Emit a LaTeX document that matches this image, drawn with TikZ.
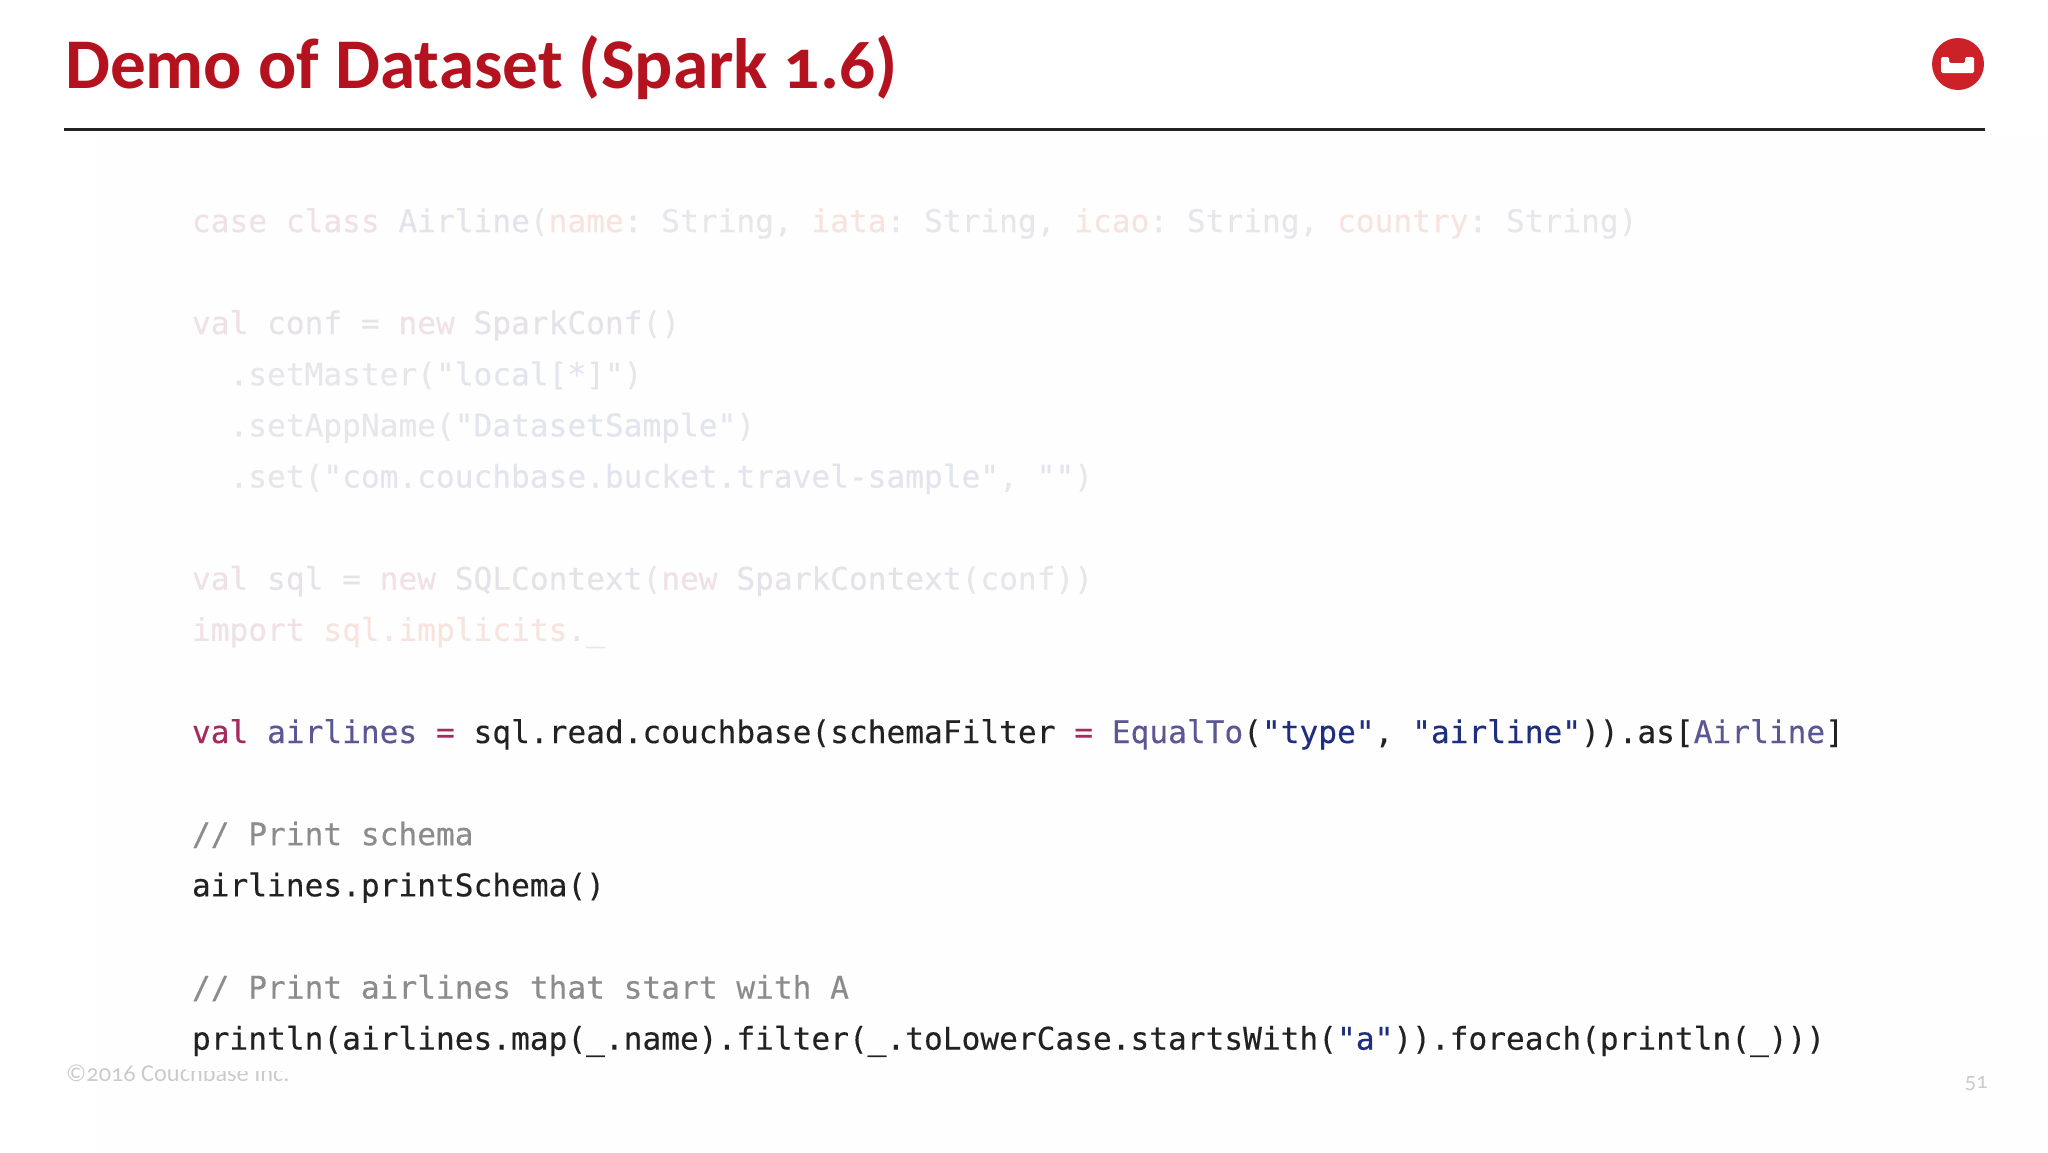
\documentclass[tikz,border=0pt]{standalone}
\usepackage{fontspec}
\setmainfont{Carlito}
\newfontfamily\codefont[FakeBold=0.25]{DejaVu Sans Mono}
\newfontfamily\oldnum[Numbers=OldStyle]{Carlito}
\newfontfamily\oldbold[Numbers=OldStyle,BoldFont={Carlito Bold}]{Carlito}
\definecolor{titlered}{HTML}{B5121F}
\definecolor{logored}{HTML}{CC2128}
\definecolor{kw}{HTML}{A52A5E}
\definecolor{idc}{HTML}{5B5794}
\definecolor{strc}{HTML}{1F2F80}
\definecolor{cmt}{HTML}{8C8C8C}
\definecolor{ink}{HTML}{222222}
\definecolor{fkw}{HTML}{F0E1E6}
\definecolor{fid}{HTML}{E6E2EA}
\definecolor{fname}{HTML}{F8E4DE}
\definecolor{ftxt}{HTML}{E7E7EB}
\definecolor{fstr}{HTML}{E3E5EE}
\definecolor{fgray}{HTML}{CBCBCB}
\definecolor{panel}{HTML}{FEFEFE}
\tikzset{
  code/.style={anchor=base west,inner sep=0pt,outer sep=0pt,font=\fontsize{31.18}{31.18}\selectfont\codefont\frenchspacing,text=ink},
  faded/.style={code,text=ftxt},
  comment/.style={code,text=cmt}
}
\begin{document}
\begin{tikzpicture}[x=1pt,y=-1pt]
\useasboundingbox (0,0) rectangle (2048,1152);
\fill[white] (0,0) rectangle (2048,1152);
\fill[panel] (96,135) rectangle (2048,1152);
% footer, partly hidden by the code panel
\node[anchor=base west,inner sep=0,text=fgray,font=\fontsize{24.3}{24.3}\selectfont\oldnum] (copy) at (66,1081) {©2016 Couchbase Inc.};
\fill[panel] (186,1040) rectangle (300,1071);
\node[anchor=base east,inner sep=0,text=fgray,font=\fontsize{23}{23}\selectfont\oldnum] (page) at (1988,1088) {51};
% title
\node[anchor=base west,inner sep=0,text=titlered,font=\fontsize{71.3}{71.3}\selectfont\oldbold\bfseries] (title) at (65,88) {Demo of Dataset (Spark 1.6)};
\coordinate (ruleL) at (64,129);
\coordinate (ruleR) at (1985,129);
\draw[line width=3pt,color=ink] (ruleL) -- (ruleR);
% logo
\fill[logored] (1958,64) circle (26);
\fill[white,rounded corners=1.5pt] (1941,57) -- (1949,57) -- (1949,63) -- (1965,63) -- (1965,57) -- (1974,57) -- (1974,73) -- (1941,73) -- cycle;
% code
\node[faded] (l0) at (192,232) {\textcolor{fkw}{case class} \textcolor{fid}{Airline}(\textcolor{fname}{name}: String, \textcolor{fname}{iata}: String, \textcolor{fname}{icao}: String, \textcolor{fname}{country}: String)};
\node[faded] (l2) at (192,334) {\textcolor{fkw}{val} \textcolor{fid}{conf} \textcolor{fid}{=} \textcolor{fkw}{new} \textcolor{fid}{SparkConf}()};
\node[faded] (l3) at (229.5,385.3) {.setMaster(\textcolor{fstr}{"local[*]"})};
\node[faded] (l4) at (229.5,436.4) {.setAppName(\textcolor{fstr}{"DatasetSample"})};
\node[faded] (l5) at (229.5,487.5) {.set(\textcolor{fstr}{"com.couchbase.bucket.travel-sample"}, \textcolor{fstr}{""})};
\node[faded] (l7) at (192,589.7) {\textcolor{fkw}{val} \textcolor{fid}{sql} \textcolor{fid}{=} \textcolor{fkw}{new} \textcolor{fid}{SQLContext}(\textcolor{fkw}{new} \textcolor{fid}{SparkContext}(conf))};
\node[faded] (l8) at (192,640.8) {\textcolor{fkw}{import} \textcolor{fname}{sql.implicits}.\_};
\node[code] (l10) at (192,743) {\textcolor{kw}{val} \textcolor{idc}{airlines} \textcolor{kw}{=} sql.read.couchbase(schemaFilter \textcolor{kw}{=} \textcolor{idc}{EqualTo}(\textcolor{strc}{"type"}, \textcolor{strc}{"airline"})).as[\textcolor{idc}{Airline}]};
\node[comment] (l12) at (192,845.2) {// Print schema};
\node[code] (l13) at (192,896.3) {airlines.printSchema()};
\node[comment] (l15) at (192,998.5) {// Print airlines that start with A};
\node[code] (l16) at (192,1049.6) {println(airlines.map(\_.name).filter(\_.toLowerCase.startsWith(\textcolor{strc}{"a"})).foreach(println(\_)))};
\end{tikzpicture}
\end{document}
